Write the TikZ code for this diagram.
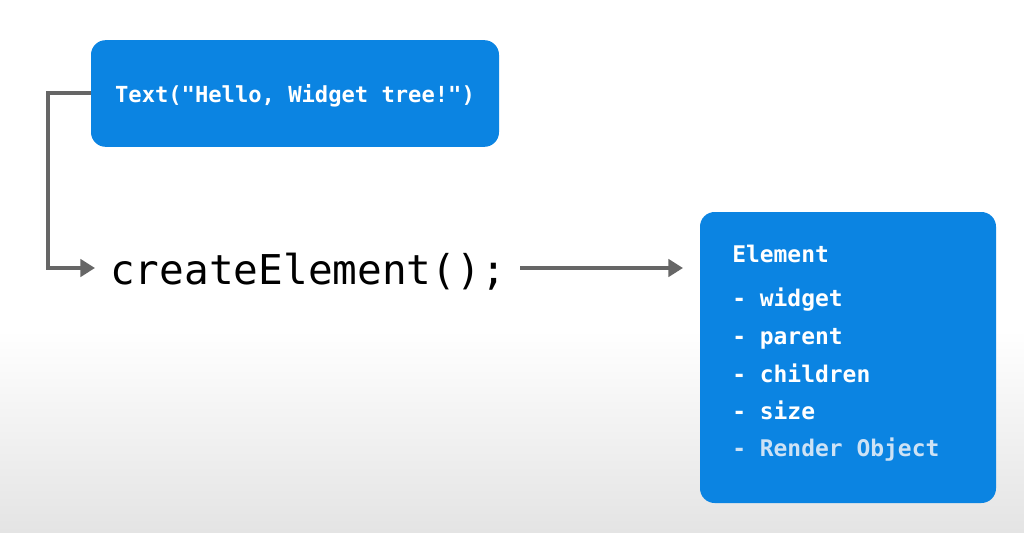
\documentclass[tikz,border=0pt]{standalone}
\usepackage{fontspec}
\setmonofont{DejaVu Sans Mono}
\usetikzlibrary{arrows.meta}
\definecolor{boxblue}{RGB}{11,132,226}
\definecolor{linegray}{RGB}{102,102,102}
\definecolor{dimtext}{RGB}{205,226,245}
\definecolor{bggray}{RGB}{228,228,228}
\tikzset{
  bluebox/.style={fill=boxblue, rounded corners=11pt, draw=none},
  conn/.style={draw=linegray, line width=3pt, -{Triangle[length=11pt,width=13pt]}},
  boxtext/.style={text=white, font=\ttfamily\bfseries\fontsize{16.6}{20}\selectfont, inner sep=0pt, anchor=base},
  listtext/.style={text=white, font=\ttfamily\bfseries\fontsize{17.2}{20}\selectfont, inner sep=0pt, anchor=base west},
}
\begin{document}
\begin{tikzpicture}[x=0.75pt,y=-0.75pt]
\useasboundingbox (0,0) rectangle (1024,532);
\fill[white] (0,0) rectangle (1024,330);
\shade[top color=white, bottom color=bggray] (0,330) rectangle (1024,532);
% top box
\node[bluebox, minimum width=306pt, minimum height=80pt] (textbox) at (295,93.5) {};
\node[boxtext] (textlbl) at (295,102) {Text("Hello, Widget tree!")};
% createElement
\node[anchor=base west, inner sep=0pt, font=\ttfamily\fontsize{30.8}{36}\selectfont] (create) at (110,284) {createElement();};
% element box
\node[bluebox, minimum width=222pt, minimum height=218.25pt] (elembox) at (848,357.5) {};
\node[listtext] (l0) at (732,262) {Element};
\node[listtext] (l1) at (732,306) {- widget};
\node[listtext] (l2) at (732,344) {- parent};
\node[listtext] (l3) at (732,382) {- children};
\node[listtext] (l4) at (732,419) {- size};
\node[listtext, text=dimtext] (l5) at (732,456) {- Render Object};
% connectors
\coordinate (cornerA) at (48,93);
\coordinate (cornerB) at (48,268);
\coordinate (tipA) at (95,268);
\draw[conn] (textbox.west |- 0,93) -- (cornerA) -- (cornerB) -- (tipA);
\coordinate (startB) at (520,268);
\coordinate (tipB) at (683,268);
\draw[conn] (startB) -- (tipB);
\end{tikzpicture}
\end{document}
